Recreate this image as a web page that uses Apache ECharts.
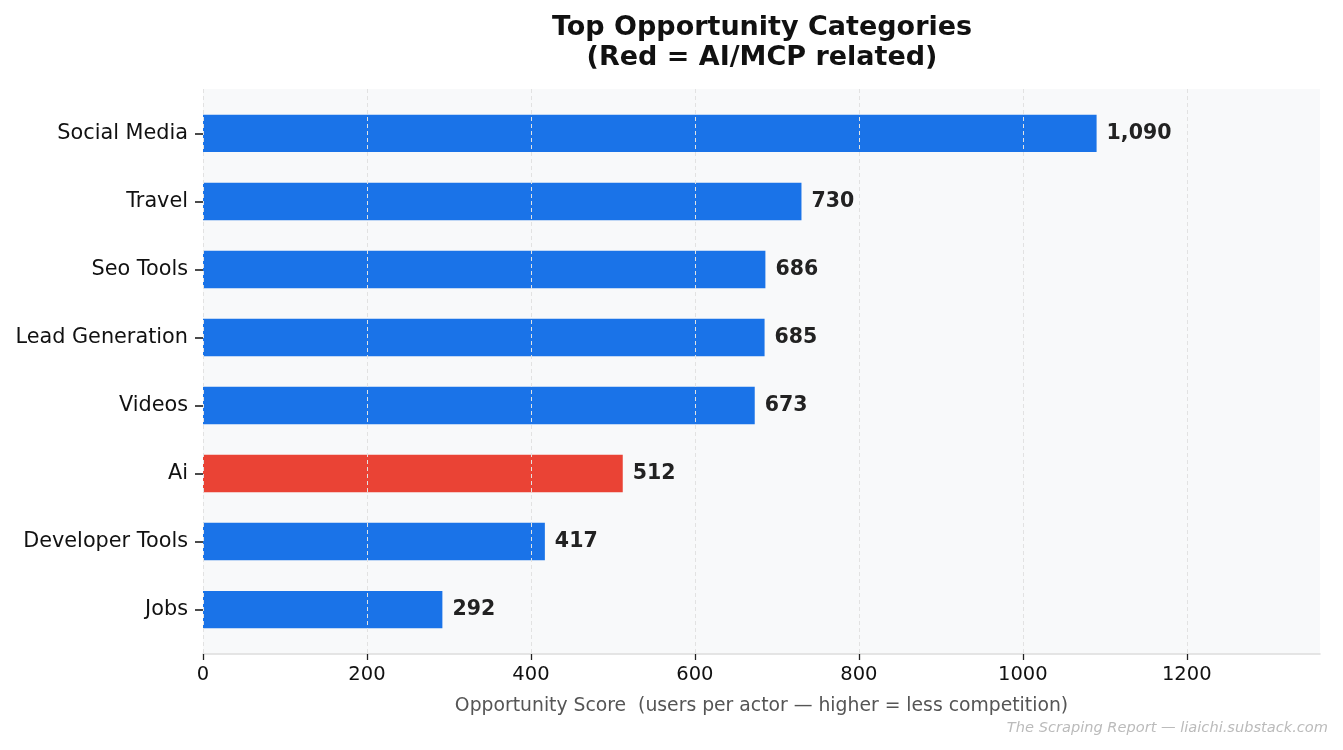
<!DOCTYPE html>
<html>
<head>
<meta charset="utf-8">
<script src="https://cdn.jsdelivr.net/npm/echarts@6/dist/echarts.min.js"></script>
<style>html,body{margin:0;padding:0;background:#fff}#c{width:1343px;height:750px}</style>
</head>
<body>
<div id="c"></div>
<script>
const categories = ["Social Media", "Travel", "Seo Tools", "Lead Generation", "Videos", "Ai", "Developer Tools", "Jobs"];
const values = [1090, 730, 686, 685, 673, 512, 417, 292];
const aiRelated = [false, false, false, false, false, true, false, false];
const xTicks = [0, 200, 400, 600, 800, 1000, 1200];
const xMax = 1362.5;

const FONT = "DejaVu Sans";
const plot = {left: 203, right: 23, top: 89, bottom: 96};
// category band inset (matplotlib margins)
const inset = 10.4;

const chart = echarts.init(document.getElementById('c'));
chart.setOption({
  animation: false,
  backgroundColor: '#ffffff',
  textStyle: {fontFamily: FONT},
  title: {
    text: 'Top Opportunity Categories\n(Red = AI/MCP related)',
    left: 757, textAlign: 'center', top: 8,
    textStyle: {fontFamily: FONT, fontSize: 27, fontWeight: 'bold', color: '#111111', lineHeight: 30}
  },
  grid: [
    {left: plot.left, right: plot.right, top: plot.top, bottom: plot.bottom, show: true,
     backgroundColor: '#f8f9fa', borderWidth: 0},
    {left: plot.left, right: plot.right, top: plot.top + inset, bottom: plot.bottom + inset, show: false}
  ],
  xAxis: [
    {type: 'value', gridIndex: 0, min: 0, max: xMax, interval: 200, z: 5,
     axisLine: {show: true, lineStyle: {color: '#dddddd', width: 1.5}},
     axisTick: {show: true, length: 6, customValues: xTicks, lineStyle: {color: '#222222', width: 1.3}},
     axisLabel: {color: '#111111', fontSize: 19.5, fontFamily: FONT, margin: 11, customValues: xTicks,
       formatter: v => String(v)},
     splitLine: {show: true, lineStyle: {color: '#e2e2e2', width: 1, type: [4, 3]}},
     name: 'Opportunity Score  (users per actor \u2014 higher = less competition)',
     nameLocation: 'middle', nameGap: 43,
     nameTextStyle: {color: '#555555', fontSize: 18.8, fontFamily: FONT}},
    {type: 'value', gridIndex: 1, min: 0, max: xMax, show: false, splitLine: {show: false}}
  ],
  yAxis: [
    {type: 'value', gridIndex: 0, show: false, splitLine: {show: false}},
    {type: 'category', gridIndex: 1, data: categories, inverse: true,
     axisLine: {show: false},
     axisTick: {show: true, alignWithLabel: true, length: 8, lineStyle: {color: '#111111', width: 1.5}},
     axisLabel: {color: '#111111', fontSize: 20.8, fontFamily: FONT, margin: 15, padding: [3, 0, 0, 0]},
     splitLine: {show: false}}
  ],
  series: [{
    type: 'bar', xAxisIndex: 1, yAxisIndex: 1,
    barCategoryGap: '45%', z: 2,
    data: values.map((v, i) => ({value: v, itemStyle: {color: aiRelated[i] ? '#ea4335' : '#1a73e8'}})),
    label: {show: true, position: 'right', distance: 10, color: '#222222', fontWeight: 'bold',
      fontSize: 20.5, fontFamily: FONT,
      formatter: p => p.value.toLocaleString('en-US')}
  }],
  graphic: [{
    type: 'text', right: 15, top: 721,
    style: {text: 'The Scraping Report \u2014 liaichi.substack.com', fill: '#bbbbbb',
      font: 'italic 14.6px "DejaVu Sans"', textAlign: 'right'}
  }]
});
</script>
</body>
</html>
